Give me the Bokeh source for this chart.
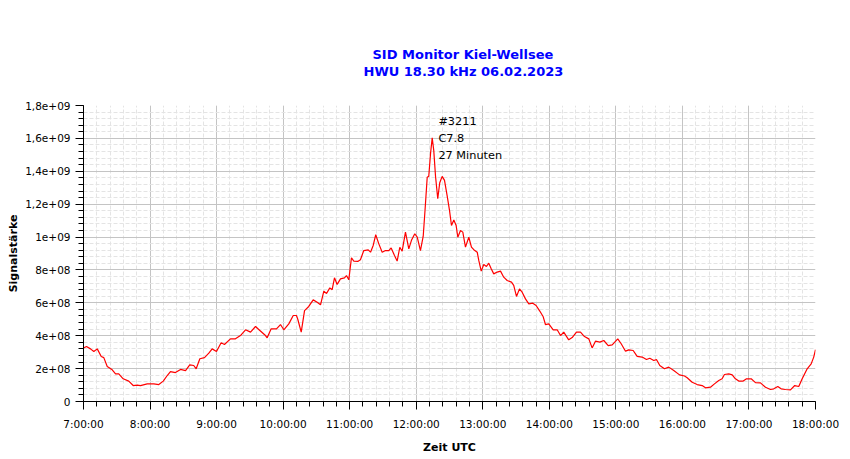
from bokeh.plotting import figure
from bokeh.models import Range1d, FixedTicker, Title, Label, ColumnDataSource
from bokeh.embed import file_html
from bokeh.resources import INLINE

# ---- data: minutes after 07:00 UTC and signal strength in units of 1e8 ----
minutes = [0, 2.7, 6.3, 9.3, 12.4, 16.0, 18.3, 21.4, 25.9, 28.9, 31.8, 35.8, 40.8, 44.8, 48.4,
           51.4, 57.4, 63.4, 67.9, 71.9, 75.5, 78.4, 82.9, 87.5, 92.0, 95.8, 99.4, 101.6, 104.9,
           109.1, 113.0, 116.0, 119.9, 124.1, 127.1, 132.5, 137.0, 141.5, 146.1, 150.6, 155.1,
           159.0, 164.1, 165.6, 169.2, 174.0, 177.6, 180.6, 185.1, 189.1, 192.0, 193.2, 196.3,
           199.3, 203.1, 207.1, 210.7, 213.7, 216.7, 219.1, 222.1, 224.2, 226.3, 228.7, 231.7,
           235.3, 237.1, 239.2, 241.6, 243.7, 247.3, 249.7, 252.7, 256.7, 258.8, 261.2, 263.5,
           266.2, 269.3, 272.3, 275.3, 277.4, 280.4, 282.8, 285.2, 287.3, 290.3, 293.3, 295.7,
           298.7, 300.9, 303.8, 306.3, 308.3, 309.9, 311.3, 312.9, 314.4, 315.8, 317.4, 319.4,
           321.2, 323.4, 325.5, 327.9, 330.0, 331.8, 333.9, 336.0, 337.5, 339.9, 342.0, 344.4,
           347.4, 349.8, 351.9, 355.0, 356.4, 358.6, 360.9, 363.3, 365.4, 367.6, 369.9, 373.0,
           376.0, 378.9, 382.0, 385.9, 387.9, 390.4, 393.1, 395.5, 398.5, 401.5, 405.1, 408.1,
           411.4, 414.5, 416.5, 419.5, 423.5, 427.1, 430.1, 433.0, 437.5, 440.6, 444.5, 448.1,
           451.7, 455.6, 458.6, 461.6, 465.5, 469.1, 473.1, 476.7, 481.7, 484.8, 488.7, 491.6,
           495.6, 499.2, 503.7, 507.6, 510.6, 514.2, 516.6, 519.6, 523.8, 527.7, 532.2, 537.4,
           541.9, 544.3, 548.8, 553.3, 557.8, 560.8, 565.3, 568.9, 572.8, 575.8, 577.9, 581.8,
           584.9, 587.8, 590.8, 594.8, 597.8, 602.0, 605.9, 610.4, 614.9, 619.4, 622.4, 626.0,
           629.0, 632.9, 637.4, 641.3, 644.9, 648.0, 652.5, 656.1, 658.4, 660.0]
signal_e8 = [3.25, 3.35, 3.2, 3.04, 3.2, 2.74, 2.67, 2.13, 1.93, 1.68, 1.68, 1.38, 1.24, 0.97, 1.0,
             0.97, 1.07, 1.07, 1.03, 1.24, 1.58, 1.82, 1.76, 1.95, 1.88, 2.23, 2.19, 1.99, 2.6,
             2.67, 2.94, 3.2, 3.04, 3.57, 3.47, 3.81, 3.81, 4.01, 4.36, 4.22, 4.56,
             4.32, 4.01, 3.87, 4.42, 4.42, 4.68, 4.36, 4.72, 5.23, 5.23, 5.0, 4.22,
             5.53, 5.78, 6.18, 6.04, 5.88, 6.71, 6.57, 6.91, 6.8, 7.52, 7.12, 7.46,
             7.52, 7.66, 7.4, 8.74, 8.54, 8.52, 8.62, 9.18, 9.22, 9.08, 9.49, 10.14,
             9.6, 9.08, 9.18, 9.18, 9.34, 8.88, 8.54, 9.38, 9.14, 10.3, 9.28, 9.8,
             10.2, 10.0, 9.18, 10.05, 12.0, 13.64, 13.7, 15.07, 16.04, 15.27, 13.7, 12.33,
             13.3, 13.69, 13.45, 12.5, 11.62, 10.7, 11.04, 10.7, 9.99, 10.4, 10.3, 9.39,
             9.99, 9.39, 9.23, 9.08, 8.58, 7.93, 8.33, 8.21, 8.41, 8.07, 7.76, 7.87,
             7.93, 7.56, 7.36, 7.26, 7.06, 6.39, 6.85, 6.65, 6.24, 5.94, 5.98, 5.84,
             5.5, 5.15, 4.68, 4.72, 4.36, 4.36, 4.01, 4.22, 3.75, 3.89, 4.22, 4.22,
             3.95, 3.81, 3.26, 3.67, 3.61, 3.71, 3.4, 3.44, 3.81, 3.51, 3.06, 3.14,
             3.1, 2.74, 2.7, 2.55, 2.63, 2.49, 2.55, 2.19, 1.99, 2.09, 1.88, 1.62,
             1.55, 1.44, 1.17, 1.03, 0.97, 0.83, 0.87, 1.07, 1.28, 1.38, 1.64, 1.68,
             1.62, 1.38, 1.24, 1.24, 1.38, 1.38, 1.15, 1.13, 0.87, 0.73, 0.77, 0.91,
             0.77, 0.73, 0.71, 0.97, 0.91, 1.38, 1.99, 2.29, 2.7, 3.15]

x_tick_hours = [7, 8, 9, 10, 11, 12, 13, 14, 15, 16, 17, 18]
x_tick_labels = ["7:00:00", "8:00:00", "9:00:00", "10:00:00", "11:00:00", "12:00:00",
                 "13:00:00", "14:00:00", "15:00:00", "16:00:00", "17:00:00", "18:00:00"]
y_tick_values = [0, 200000000, 400000000, 600000000, 800000000, 1000000000,
                 1200000000, 1400000000, 1600000000, 1800000000]
y_tick_labels = ["0", "2e+08", "4e+08", "6e+08", "8e+08", "1e+09",
                 "1,2e+09", "1,4e+09", "1,6e+09", "1,8e+09"]

title_lines = ["SID Monitor Kiel-Wellsee", "HWU 18.30 kHz 06.02.2023"]
annotation_lines = ["#3211", "C7.8", "27 Minuten"]
annotation_minute = 320       # 12:20 UTC
annotation_value_e8 = 17.0

hours = [7 + m / 60.0 for m in minutes]
values = [v * 1e8 for v in signal_e8]
src = ColumnDataSource(dict(x=hours, y=values))

FONT = "DejaVu Sans"

p = figure(width=850, height=459, x_range=Range1d(7, 18), y_range=Range1d(0, 1.8e9),
           output_backend="svg", toolbar_location=None, title=None,
           min_border_left=83, min_border_right=35, min_border_top=105, min_border_bottom=58)
p.outline_line_color = None
p.background_fill_color = "white"
p.border_fill_color = "white"

# spacer between plot and title, then the two title lines (later = higher)
p.add_layout(Title(text=" ", text_font=FONT, text_font_size="13px", standoff=10), "above")
p.add_layout(Title(text=title_lines[1], align="left", text_color="#0000ff",
                   text_font=FONT, text_font_size="13px", text_font_style="bold",
                   standoff=0, offset=280), "above")
p.add_layout(Title(text=title_lines[0], align="left", text_color="#0000ff",
                   text_font=FONT, text_font_size="13px", text_font_style="bold",
                   standoff=0, offset=289), "above")

# ticks
x_minor = [7 + i * 0.2 for i in range(56)]
y_minor = [i * 40000000 for i in range(46)]
p.xaxis.ticker = FixedTicker(ticks=x_tick_hours, minor_ticks=x_minor)
p.yaxis.ticker = FixedTicker(ticks=y_tick_values, minor_ticks=y_minor)
p.xaxis.major_label_overrides = dict(zip(x_tick_hours, x_tick_labels))
p.yaxis.major_label_overrides = dict(zip(y_tick_values, y_tick_labels))

for ax in (p.xaxis, p.yaxis):
    ax.axis_line_color = "black"
    ax.major_tick_line_color = "black"
    ax.minor_tick_line_color = "black"
    ax.major_tick_in = 0
    ax.minor_tick_in = 0
    ax.major_tick_out = 8
    ax.minor_tick_out = 5
    ax.major_label_text_font = FONT
    ax.major_label_text_font_size = "10.5px"
    ax.major_label_text_color = "black"
    ax.axis_label_text_font = FONT
    ax.axis_label_text_font_size = "11px"
    ax.axis_label_text_font_style = "bold"
    ax.axis_label_text_color = "black"

p.xaxis.axis_label = "Zeit UTC"
p.yaxis.axis_label = "Signalstärke"
p.xaxis.major_label_standoff = 8
p.yaxis.major_label_standoff = 5
p.xaxis.axis_label_standoff = 8
p.yaxis.axis_label_standoff = 2

for g in (p.xgrid, p.ygrid):
    g.grid_line_color = "#c4c4c4"
    g.grid_line_width = 1
    g.minor_grid_line_color = "#e4e4e4"
    g.minor_grid_line_dash = "4 2"
    g.minor_grid_line_width = 1

p.line("x", "y", source=src, line_color="#ff0000", line_width=1.2)

ax_hour = 7 + annotation_minute / 60.0
for i, t in enumerate(annotation_lines):
    p.add_layout(Label(x=ax_hour, y=annotation_value_e8 * 1e8, y_offset=-17 * i, text=t,
                       text_font=FONT, text_font_size="11.3px", text_color="black",
                       text_baseline="middle", text_align="left"))

open("out.html", "w").write(file_html(p, INLINE))
